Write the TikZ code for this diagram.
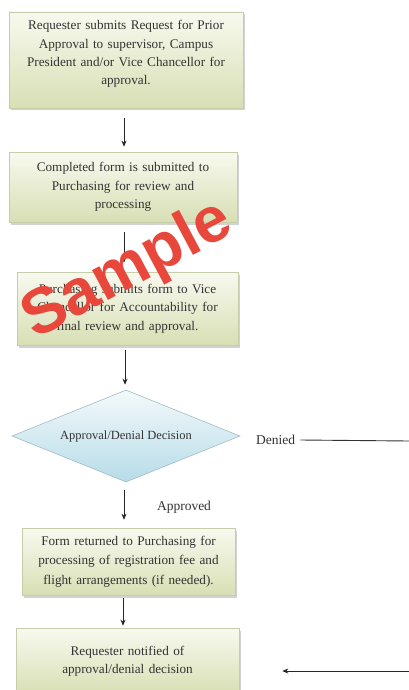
\documentclass[tikz,border=0pt]{standalone}
\usepackage{fontspec}
\setmainfont{Liberation Serif}
\newfontfamily\wmfont{Liberation Sans}
\usetikzlibrary{shapes.geometric,arrows.meta,shadows}
\definecolor{boxtop}{HTML}{F8F9EF}
\definecolor{boxbot}{HTML}{D8DFB4}
\definecolor{boxline}{HTML}{C6CDAA}
\definecolor{diatop}{HTML}{F4F9FB}
\definecolor{diabot}{HTML}{B6DCE8}
\definecolor{dialine}{HTML}{A3BCC6}
\definecolor{txt}{HTML}{333333}
\definecolor{wm}{HTML}{E8473B}
\tikzset{
  stepbox/.style={rectangle, draw=boxline, line width=0.6pt, top color=boxtop, bottom color=boxbot,
    drop shadow={shadow xshift=1.5pt, shadow yshift=-2.5pt, opacity=0.35, fill=gray},
    align=center, inner sep=2pt, text=txt, font=\fontsize{13.2}{18.3}\selectfont},
  boxtext/.style={align=center, inner sep=0pt, text=txt, font=\fontsize{13.2}{18.3}\selectfont},
  decision/.style={diamond, draw=dialine, line width=0.6pt, top color=diatop, bottom color=diabot,
    minimum width=228pt, minimum height=92pt, inner sep=0pt, aspect=2.48,
    text=txt, font=\fontsize{12.5}{14}\selectfont},
  lbl/.style={text=txt, font=\fontsize{13.5}{15}\selectfont, inner sep=1pt},
  arr/.style={draw=black!85, line width=0.8pt, -{Stealth[length=6pt,width=5pt]}},
  plain/.style={draw=black!80, line width=0.9pt}
}
\begin{document}
\begin{tikzpicture}[x=1pt,y=-1pt]
\useasboundingbox (0,0) rectangle (409,690);
\clip (0,0) rectangle (409,690);
\fill[white] (0,0) rectangle (409,690);

\node[stepbox, minimum width=234pt, minimum height=96pt] (b1) at (126,60) {};
\node[boxtext, text width=228pt] (b1t) at (126,54)
  {Requester submits Request for Prior\\Approval to supervisor, Campus\\President and/or Vice Chancellor for\\approval.};
\node[stepbox, minimum width=228pt, minimum height=70pt, text width=222pt] (b2) at (123,187)
  {Completed form is submitted to\\Purchasing for review and\\processing};
\node[stepbox, minimum width=221pt, minimum height=73pt, text width=215pt] (b3) at (127.5,308.5)
  {Purchasing submits form to Vice\\Chancellor for Accountability for\\final review and approval.};
\node[decision] (d) at (126,436) {Approval/Denial Decision\\[2pt]};
\node[stepbox, minimum width=213pt, minimum height=67pt, text width=209pt, font=\fontsize{13.2}{19.5}\selectfont] (b4) at (128.5,561.5)
  {Form returned to Purchasing for\\processing of registration fee and\\flight arrangements (if needed).};
\node[stepbox, minimum width=223pt, minimum height=66pt, text width=217pt] (b5) at (127.5,661)
  {Requester notified of\\approval/denial decision};

\coordinate (ax) at (124,0);
\coordinate (ax3) at (125,0);
\coordinate (ax5) at (123,0);
\coordinate (rt1) at (409,441);
\coordinate (rt2) at (409,671);

\draw[arr, shorten <=10pt, shorten >=5pt] (b1.south -| ax) -- (b2.north -| ax);
\draw[arr, shorten <=10pt, shorten >=9pt] (b2.south -| ax) -- (b3.north -| ax);
\draw[arr, shorten <=5pt, shorten >=5pt] (b3.south -| ax3) -- (d.north -| ax3);
\draw[arr, shorten <=8pt, shorten >=8pt] (d.south -| ax) -- (b4.north -| ax);
\draw[arr, shorten <=3pt, shorten >=2pt] (b4.south -| ax5) -- (b5.north -| ax5);

\node[lbl, anchor=west] (den) at (255,440) {Denied};
\draw[plain] (den.east) ++(4pt,0) -- (rt1);
\node[lbl] (apr) at (184,507) {Approved};
\draw[arr, shorten >=43pt] (rt2) -- (b5.east |- rt2);

\node[text=wm, font=\wmfont\bfseries\fontsize{64}{64}\selectfont, rotate=28, inner sep=0pt] (wmk) at (128,271) {Sample};
\end{tikzpicture}
\end{document}
